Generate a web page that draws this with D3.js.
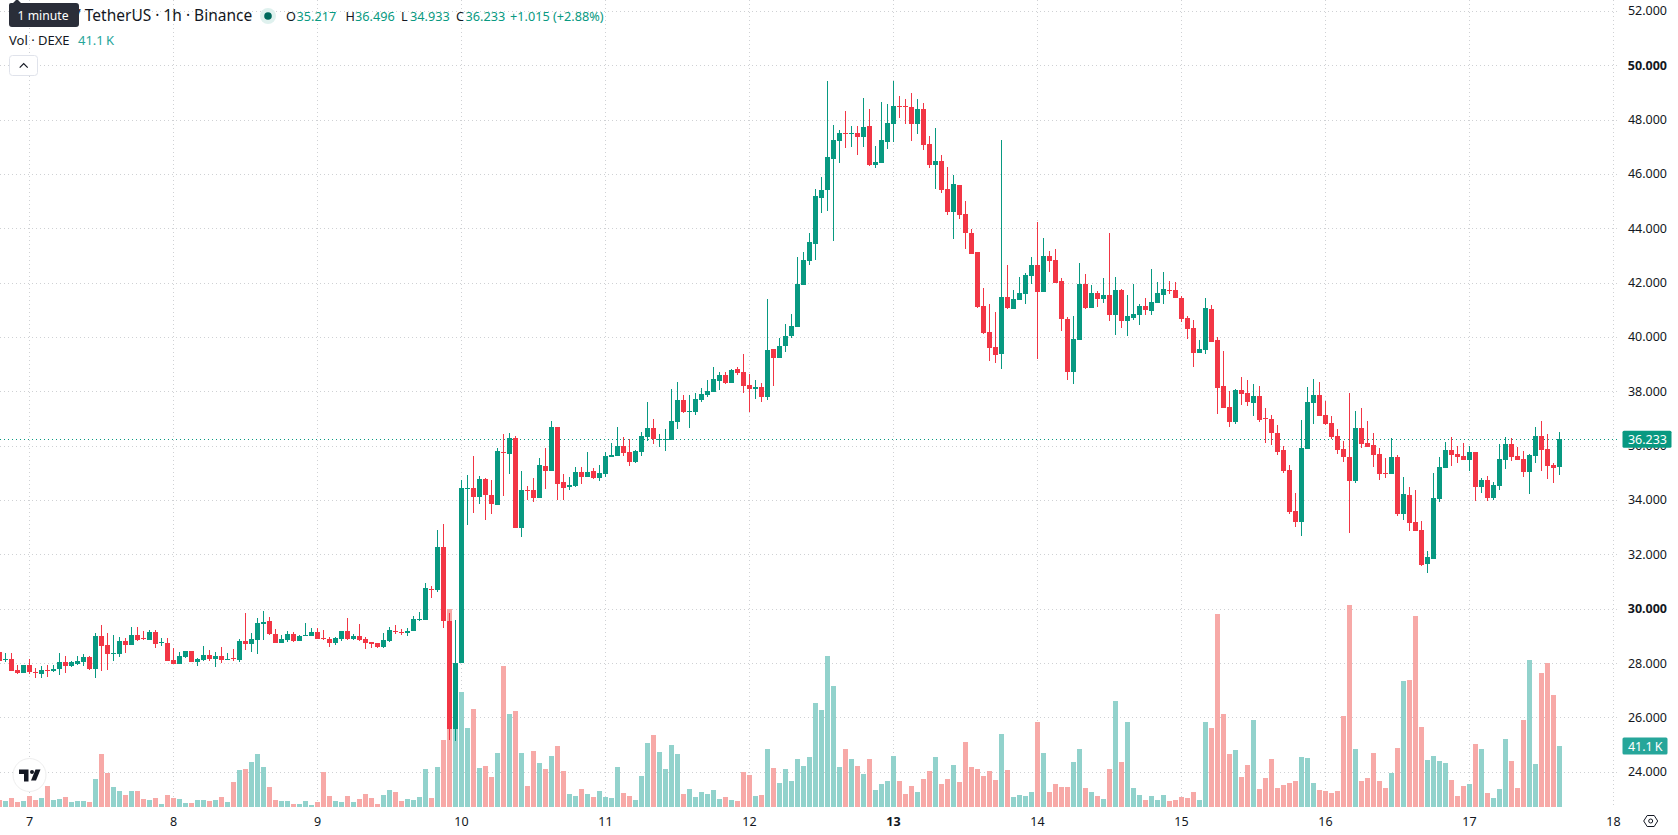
<!DOCTYPE html>
<html>
<head>
<meta charset="utf-8">
<title>DEXE / TetherUS 1h</title>
<script src="https://cdn.jsdelivr.net/npm/d3@7"></script>
<style>
  html, body { margin: 0; padding: 0; background: #fff; overflow: hidden; }
  svg { display: block; }
  text { font-family: "Noto Sans", sans-serif; }
</style>
</head>
<body>
<svg id="chart" width="1678" height="835"></svg>
<script>
// Hourly candles; hour 0 is the start of day 7, and the series opens five hours earlier.
const firstHour = -5;

const opens = [28.39,28.10,28.13,27.73,27.62,
27.91,27.66,27.58,27.73,27.69,27.77,28.02,27.88,27.95,28.02,
28.21,27.77,28.98,28.65,28.32,28.32,28.80,28.65,29.02,28.91,
28.83,29.13,28.72,28.72,28.10,27.95,28.21,28.43,28.02,28.10,
28.28,28.13,28.25,28.10,28.17,28.10,28.80,28.69,28.83,29.42,
29.53,29.06,28.72,28.83,29.06,28.80,28.98,28.98,29.13,28.91,
28.87,28.72,28.87,29.17,28.87,28.98,28.87,28.76,28.72,28.58,
28.80,29.17,29.13,29.09,29.17,29.57,29.57,30.72,30.69,32.27,
29.55,25.57,27.99,34.41,34.44,34.11,34.77,34.18,33.82,35.77,
35.69,36.28,32.97,34.37,34.37,34.07,35.25,35.07,36.69,34.66,
34.48,34.52,35.03,34.85,35.07,34.81,34.96,35.58,35.62,35.99,
35.77,35.40,35.77,36.32,36.65,36.21,36.21,36.21,36.87,37.68,
37.24,37.24,37.68,37.87,37.98,38.38,38.60,38.31,38.82,38.71,
38.23,38.09,38.16,37.79,39.56,39.23,39.67,40.04,40.37,41.91,
42.80,43.42,45.12,45.41,46.55,47.21,47.51,47.47,47.51,47.36,
47.77,46.33,46.40,47.18,47.84,48.50,48.50,48.47,47.84,48.39,
47.10,46.33,46.48,45.45,44.60,45.59,44.53,43.83,43.13,41.14,
40.18,39.63,39.37,41.47,41.03,41.36,41.58,42.24,42.65,41.66,
42.98,42.83,42.06,40.66,38.71,39.89,41.95,41.07,41.62,41.40,
41.55,40.81,41.73,40.59,40.70,40.81,41.14,40.96,41.25,41.55,
41.73,41.73,41.44,40.70,40.33,39.41,39.52,41.03,39.89,38.20,
37.42,36.87,38.05,37.94,37.57,37.83,37.02,36.98,36.47,35.84,
35.10,33.59,33.19,35.88,37.57,37.87,37.13,36.83,36.36,35.88,
35.58,34.70,36.65,36.10,36.02,35.70,34.99,34.96,35.58,33.48,
34.18,33.19,32.90,31.64,31.83,34.03,35.18,35.84,35.69,35.62,
35.47,35.77,34.48,34.73,34.07,34.51,35.47,36.06,35.62,35.51,
35.03,35.62,36.35,35.88,35.29,35.217];

const highs = [28.39,28.36,28.36,27.91,27.91,
28.13,27.80,27.88,27.91,27.91,28.36,28.25,28.06,28.25,28.32,
28.25,29.09,29.39,29.09,29.02,28.95,28.91,29.31,29.31,29.17,
29.20,29.20,28.91,28.91,28.54,28.39,28.43,28.43,28.17,28.61,
28.47,28.39,28.58,28.36,28.50,28.87,29.83,29.09,29.64,29.90,
29.68,29.24,29.02,29.17,29.13,29.02,29.46,29.28,29.28,29.20,
28.95,28.95,29.17,29.64,29.06,29.42,28.95,28.76,28.72,29.09,
29.31,29.39,29.24,29.28,29.72,29.87,30.93,30.83,32.90,33.12,
29.84,29.58,34.74,34.92,35.62,34.88,34.81,34.74,35.91,36.43,
36.47,36.36,35.07,34.52,34.81,35.55,35.91,36.91,36.69,34.96,
34.85,35.22,35.22,35.77,35.18,35.29,35.77,36.10,36.69,36.32,
36.25,35.84,36.50,37.61,36.98,36.43,36.61,38.09,38.34,37.87,
37.87,37.94,38.12,38.42,38.90,38.71,38.71,38.82,38.90,39.38,
38.64,38.42,38.31,41.40,39.56,39.96,40.48,40.85,42.94,43.13,
43.83,45.45,45.89,49.42,47.80,47.62,48.32,47.77,47.77,48.80,
48.39,47.03,48.65,48.58,49.42,48.87,48.76,48.98,48.76,48.61,
47.40,47.69,46.70,46.26,45.96,45.59,45.01,43.98,43.13,41.80,
41.21,40.92,47.25,42.65,41.73,42.21,42.36,42.94,44.23,43.64,
43.17,43.24,42.17,40.74,40.77,42.72,42.32,41.91,41.69,42.17,
43.83,42.21,41.77,41.55,41.95,41.21,41.44,42.50,42.02,42.39,
42.06,42.02,41.51,40.77,40.62,39.89,41.44,41.18,40.00,39.48,
38.01,38.09,38.53,38.42,38.27,38.20,37.39,37.13,36.76,35.99,
35.29,34.26,36.94,38.16,38.45,38.34,37.64,37.09,36.61,36.17,
37.94,37.28,37.39,36.91,36.47,35.91,35.55,36.28,35.66,34.85,
34.48,34.37,33.23,32.12,34.99,35.58,36.13,36.32,36.00,36.10,
36.00,35.77,34.81,34.88,34.66,36.06,36.32,36.28,35.95,35.80,
35.69,36.69,36.91,36.43,35.36,36.496];

const lows = [28.06,28.02,27.69,27.58,27.62,
27.58,27.44,27.44,27.47,27.66,27.55,27.62,27.84,27.91,27.88,
27.73,27.44,27.69,27.73,28.06,28.21,28.36,28.65,28.80,28.83,
28.83,28.54,28.61,28.06,27.95,27.95,28.17,28.02,27.88,28.06,
28.06,27.84,27.99,28.10,28.06,28.02,28.47,28.39,28.32,28.83,
29.02,28.72,28.72,28.76,28.76,28.80,28.98,28.98,28.87,28.83,
28.58,28.65,28.80,28.83,28.83,28.80,28.50,28.54,28.54,28.54,
28.76,29.06,29.02,28.98,29.17,29.53,29.57,30.39,30.61,29.29,
25.17,25.13,27.99,33.08,33.52,33.85,33.26,33.49,33.82,34.15,
34.96,32.97,32.64,34.00,33.93,34.07,34.41,35.07,34.00,34.00,
34.37,34.48,34.59,34.85,34.77,34.70,34.85,35.58,35.62,35.62,
35.25,35.36,35.62,36.17,36.06,35.95,35.80,36.21,36.61,37.20,
36.65,37.13,37.61,37.79,37.98,38.05,38.27,38.31,38.60,37.94,
37.24,37.72,37.61,37.68,38.20,39.23,39.45,39.96,40.37,41.91,
42.65,42.83,44.56,44.64,43.53,46.40,46.96,46.99,46.70,46.99,
46.29,46.22,46.40,46.92,47.18,48.06,47.84,47.21,47.47,46.88,
46.22,45.45,45.30,44.49,43.61,44.34,43.24,43.05,41.07,40.11,
39.12,39.04,38.82,41.03,41.03,41.36,41.21,41.95,39.19,41.66,
42.39,41.99,40.22,38.42,38.27,39.89,41.03,41.07,41.10,41.25,
40.59,40.07,40.33,40.04,40.62,40.44,40.81,40.81,41.25,41.21,
41.58,41.44,40.55,39.93,38.90,39.41,39.37,39.82,37.17,37.39,
36.69,36.80,37.50,37.46,37.09,36.87,36.10,36.02,35.66,34.99,
33.49,33.00,32.67,35.88,36.80,37.09,36.76,36.25,35.69,35.40,
32.79,34.63,35.91,35.95,35.21,34.74,34.81,34.96,33.41,33.26,
32.86,32.86,31.57,31.31,31.83,33.93,35.18,35.25,35.36,35.47,
35.07,33.96,34.26,33.96,34.00,34.37,35.14,35.43,35.47,34.85,
34.22,35.36,35.07,34.77,34.63,34.933];

const closes = [28.06,28.13,27.69,27.62,27.91,
27.66,27.62,27.73,27.69,27.77,28.02,27.88,28.02,28.06,28.21,
27.77,28.98,28.61,28.32,28.36,28.80,28.65,29.02,28.83,28.87,
29.13,28.69,28.76,28.06,27.95,28.25,28.43,28.02,28.13,28.28,
28.13,28.25,28.10,28.13,28.13,28.80,28.69,28.87,29.46,29.50,
29.06,28.72,28.87,29.06,28.80,28.98,29.02,29.13,28.87,28.87,
28.72,28.91,29.17,28.87,28.98,28.83,28.72,28.69,28.58,28.83,
29.20,29.13,29.09,29.17,29.61,29.61,30.75,30.69,32.27,29.55,
25.57,27.99,34.44,34.44,34.11,34.77,34.18,33.85,35.80,35.73,
36.28,32.97,34.37,34.33,34.07,35.29,35.07,36.69,34.59,34.44,
34.55,35.03,34.85,35.03,34.81,34.99,35.62,35.66,35.99,35.73,
35.40,35.80,36.36,36.65,36.25,36.25,36.25,36.91,37.68,37.24,
37.28,37.72,37.90,38.01,38.45,38.60,38.31,38.79,38.68,38.20,
38.09,38.16,37.79,39.52,39.23,39.67,40.04,40.41,41.95,42.83,
43.50,45.19,45.41,46.63,47.25,47.51,47.47,47.51,47.36,47.73,
46.33,46.44,47.25,47.88,48.50,48.47,48.47,47.84,48.39,47.07,
46.33,46.48,45.41,44.60,45.63,44.49,43.83,43.05,41.10,40.15,
39.60,39.34,41.47,41.07,41.40,41.62,42.28,42.65,41.66,42.98,
42.80,41.99,40.66,38.71,39.93,41.95,41.07,41.62,41.40,41.55,
40.81,41.73,40.59,40.77,40.85,41.14,41.00,41.29,41.62,41.77,
41.69,41.44,40.66,40.29,39.41,39.56,41.07,39.82,38.12,37.39,
36.87,38.05,37.90,37.61,37.83,36.94,36.98,36.47,35.77,35.07,
33.56,33.19,35.91,37.61,37.87,37.09,36.80,36.32,35.84,35.58,
34.70,36.65,36.06,35.95,35.66,34.96,34.96,35.58,33.48,34.22,
33.15,32.86,31.61,31.90,34.07,35.21,35.84,35.66,35.58,35.47,
35.77,34.48,34.73,34.07,34.55,35.51,36.06,35.58,35.47,35.03,
35.66,36.35,35.84,35.25,35.18,36.233];

// Traded volume per hour, in thousands.
const volumes = [4.7,4.0,6.1,3.4,4.0,
7.4,4.7,6.1,14.1,4.7,5.4,6.7,3.4,4.0,4.0,
3.4,18.9,35.7,22.9,13.5,10.8,8.1,10.8,10.8,5.4,
4.7,6.1,2.0,8.1,6.1,5.4,2.7,2.7,4.7,4.7,
4.0,4.7,6.7,3.4,16.8,24.9,25.6,30.3,35.7,27.0,
13.5,4.7,4.0,4.0,2.0,2.0,4.0,1.3,3.4,23.6,
7.4,4.0,3.4,7.4,3.4,5.4,8.8,6.1,2.0,8.1,
11.5,10.1,4.0,5.4,4.7,6.7,25.6,6.1,27.0,45.1,
133.4,78.8,77.5,53.2,66.0,26.3,27.6,20.2,36.4,95.0,
62.7,64.7,36.4,14.1,37.7,29.6,25.6,34.4,41.1,24.3,
8.8,7.4,12.1,8.8,6.7,10.8,6.7,6.1,27.0,9.4,
7.4,4.7,20.9,43.1,48.5,37.1,25.6,41.8,35.7,8.8,
12.1,6.7,10.1,8.8,11.5,5.4,6.7,4.7,4.0,23.6,
21.6,7.4,8.1,39.1,26.3,16.2,25.6,17.5,32.3,27.6,
33.7,70.1,65.4,101.7,81.5,27.0,39.1,32.3,27.6,22.2,
32.3,11.5,15.5,17.5,34.4,17.5,8.8,14.1,10.1,18.9,
24.3,33.7,15.5,18.9,28.3,16.8,43.8,27.0,25.6,20.9,
24.3,18.2,49.2,24.9,6.7,8.1,7.4,10.1,57.3,36.4,
10.1,15.5,13.5,13.5,30.3,39.1,12.8,10.1,7.4,5.4,
25.6,71.4,30.3,57.3,12.8,8.1,4.7,7.4,4.7,8.1,
4.0,4.7,6.7,6.1,10.1,4.7,57.3,53.2,130.0,62.7,
35.7,38.4,20.2,28.3,58.6,12.1,19.5,32.3,12.8,14.8,
16.2,17.5,33.7,33.0,16.2,11.5,10.8,9.4,10.8,61.3,
136.1,39.1,17.5,19.5,36.4,17.5,12.8,22.9,39.8,84.9,
85.6,128.7,53.9,31.7,34.4,31.0,29.6,18.2,7.4,14.1,
15.5,42.4,39.1,9.4,6.1,12.1,45.8,31.0,12.8,58.6,
99.0,29.0,90.3,97.0,75.5,41.1];

const dayLabels = ["7","8","9","10","11","12","13","14","15","16","17","18"];
const boldDays = ["13"];
const priceTicks = [52,50,48,46,44,42,40,38,36,34,32,30,28,26,24];
const boldPrices = [50,30];

const titleText = "/ TetherUS · 1h · Binance";
const legendOHLC = [["O","35.217"],["H","36.496"],["L","34.933"],["C","36.233"]];
const legendChange = "+1.015 (+2.88%)";
const volumeTitle = "Vol · DEXE";
const tooltipText = "1 minute";

const colors = {
  up: "#089981", down: "#F23645",
  volUp: "#92D2CC", volDown: "#F7A9A7",
  grid: "#cfd1d4", text: "#131722", volLabel: "#26A69A"
};

const plotRight = 1620, volBase = 807;
const svg = d3.select("#chart");

// One candle every 6px, 24 candles to the day.
const x = d3.scaleLinear().domain([0, 264]).range([29.5, 1613.5]);
const y = d3.scaleLinear().domain([38, 24]).range([391.3, 771.7]);
const yVol = d3.scaleLinear().domain([0, 100]).range([volBase, volBase - 148.4]);

const candles = opens.map((o, i) => ({
  hour: firstHour + i, o, h: highs[i], l: lows[i], c: closes[i],
  v: volumes[i], up: closes[i] >= o
}));
const last = candles[candles.length - 1];

// Dotted grid, horizontal then one vertical per day.
const grid = svg.append("g").attr("stroke", colors.grid).attr("stroke-width", 1).attr("stroke-dasharray", "1 3");
grid.selectAll("line.h").data(priceTicks).join("line").attr("class", "h")
  .attr("x1", 0).attr("x2", plotRight)
  .attr("y1", d => Math.round(y(d)) + .5).attr("y2", d => Math.round(y(d)) + .5);
grid.selectAll("line.v").data(dayLabels).join("line").attr("class", "v")
  .attr("x1", (d, i) => Math.floor(x(i * 24)) + .5).attr("x2", (d, i) => Math.floor(x(i * 24)) + .5)
  .attr("y1", 0).attr("y2", volBase);

// Volume columns sit under the candles.
svg.append("g").attr("shape-rendering", "crispEdges")
  .selectAll("rect").data(candles).join("rect")
  .attr("x", d => x(d.hour) - 2.5).attr("width", 5)
  .attr("y", d => yVol(d.v)).attr("height", d => yVol(0) - yVol(d.v))
  .attr("fill", d => d.up ? colors.volUp : colors.volDown);

// Last-price line.
svg.append("line")
  .attr("x1", 0).attr("x2", plotRight)
  .attr("y1", Math.round(y(last.c)) + .5).attr("y2", Math.round(y(last.c)) + .5)
  .attr("stroke", colors.up).attr("stroke-dasharray", "1 3");

// Candles: wick first, then the body on top.
const cg = svg.append("g").attr("shape-rendering", "crispEdges");
cg.selectAll("rect.wick").data(candles).join("rect").attr("class", "wick")
  .attr("x", d => x(d.hour) - .5).attr("width", 1)
  .attr("y", d => y(d.h)).attr("height", d => Math.max(1, y(d.l) - y(d.h)))
  .attr("fill", d => d.up ? colors.up : colors.down);
cg.selectAll("rect.body").data(candles).join("rect").attr("class", "body")
  .attr("x", d => x(d.hour) - 2.5).attr("width", 5)
  .attr("y", d => y(Math.max(d.o, d.c)))
  .attr("height", d => Math.max(1, Math.abs(y(d.o) - y(d.c))))
  .attr("fill", d => d.up ? colors.up : colors.down);

// Time axis labels.
svg.append("g").selectAll("text").data(dayLabels).join("text")
  .attr("x", (d, i) => x(i * 24)).attr("y", 826)
  .attr("text-anchor", "middle").attr("font-size", 12.5)
  .attr("font-weight", d => boldDays.includes(d) ? 700 : 400)
  .attr("fill", colors.text).text(d => d);

// Price axis labels.
svg.append("g").selectAll("text").data(priceTicks).join("text")
  .attr("x", 1667).attr("y", d => y(d) + 4.5)
  .attr("text-anchor", "end").attr("font-size", 12.5)
  .attr("font-weight", d => boldPrices.includes(d) ? 700 : 400)
  .attr("fill", colors.text).text(d3.format(".3f"));

// Last-price and last-volume tags on the price axis.
function axisTag(cy, label, fill, right, inset) {
  svg.append("rect").attr("x", 1622.5).attr("y", cy - 8.5).attr("width", right - 1622.5).attr("height", 17)
    .attr("rx", 1.5).attr("fill", fill);
  svg.append("text").attr("x", right - inset).attr("y", cy + 4.5).attr("text-anchor", "end")
    .attr("font-size", 12.5).attr("fill", "#fff").text(label);
}
axisTag(y(last.c), d3.format(".3f")(last.c), colors.up, 1671.5, 4.5);
axisTag(yVol(last.v), last.v.toFixed(1) + "\u2009K", colors.volLabel, 1667.5, 5);

// Settings glyph in the axis corner.
const gear = svg.append("g").attr("transform", "translate(1650.7,821)").attr("fill", "none").attr("stroke", colors.text).attr("stroke-width", 1);
gear.append("path").attr("d", "M-7 0L-3.5-5.5H3.5L7 0L3.5 5.5H-3.5Z");
gear.append("circle").attr("r", 2);

// Legend block.
const legend = svg.append("g");
legend.append("text").attr("x", 75).attr("y", 21.3).attr("font-size", 15.5).attr("fill", colors.text).text(titleText);
legend.append("circle").attr("cx", 268).attr("cy", 16).attr("r", 8).attr("fill", "#dff1ee");
legend.append("circle").attr("cx", 268).attr("cy", 16).attr("r", 3.8).attr("fill", "#00695c");
const legendX = [[286, 296.5], [345.5, 355], [401, 410], [456, 465.5]];
legendOHLC.forEach(([k, v], i) => {
  legend.append("text").attr("x", legendX[i][0]).attr("y", 20.5).attr("font-size", 12.7).attr("fill", colors.text).text(k);
  legend.append("text").attr("x", legendX[i][1]).attr("y", 20.5).attr("font-size", 12.7).attr("fill", colors.up).text(v);
});
legend.append("text").attr("x", 510).attr("y", 20.5).attr("font-size", 12.7).attr("fill", colors.up).text(legendChange);
legend.append("text").attr("x", 9).attr("y", 44.7).attr("font-size", 13).attr("fill", colors.text).text(volumeTitle);
legend.append("text").attr("x", 78).attr("y", 44.7).attr("font-size", 13).attr("fill", colors.volLabel).text("41.1\u2009K");

// Collapse button.
legend.append("rect").attr("x", 9.5).attr("y", 55.5).attr("width", 28).attr("height", 20).attr("rx", 3)
  .attr("fill", "#fff").attr("stroke", "#e0e3eb");
legend.append("path").attr("d", "M19.7 67.7L23.7 63.7L27.7 67.7").attr("fill", "none").attr("stroke", colors.text).attr("stroke-width", 1.2);

// Hover tooltip over the legend.
svg.append("path").attr("d", "M9 5a2 2 0 0 1 2-2H13L16 0H18L21 3H76a3 3 0 0 1 3 3V24a3 3 0 0 1-3 3H12a3 3 0 0 1-3-3Z").attr("fill", "#2a2e39");
svg.append("text").attr("x", 17.5).attr("y", 19.5).attr("font-size", 12.2).attr("fill", "#fff").text(tooltipText);

// Watermark badge in the lower left.
const badge = svg.append("g").attr("transform", "translate(29.5,775)");
badge.append("circle").attr("r", 16.5).attr("fill", "#fff").attr("stroke", "#eeeeee").attr("stroke-width", 1);
badge.append("path").attr("fill", "#131722")
  .attr("d", "M-10.5-5.5H-1V6.5H-5.5V-1H-10.5Z M6-5.5H11L6.5 5.5H1.5Z");
badge.append("circle").attr("cx", 2.5).attr("cy", -3).attr("r", 2).attr("fill", "#131722");
</script>
</body>
</html>
